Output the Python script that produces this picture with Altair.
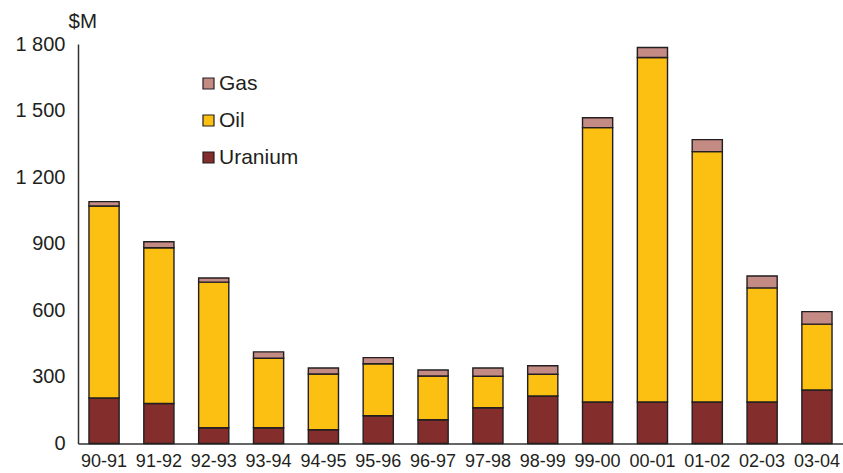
import altair as alt
import pandas as pd

# Financial years and annual spending by commodity ($M)
years = ["90-91", "91-92", "92-93", "93-94", "94-95", "95-96", "96-97",
         "97-98", "98-99", "99-00", "00-01", "01-02", "02-03", "03-04"]
uranium = [205, 180, 71, 71, 62, 125, 107, 161, 214, 187, 187, 187, 187, 241]
oil = [865, 702, 656, 313, 251, 234, 197, 142, 98, 1236, 1552, 1128, 514, 297]
gas = [20, 27, 19, 29, 27, 28, 27, 37, 38, 45, 45, 54, 54, 56]

series = ["Gas", "Oil", "Uranium"]
colors = ["#c48a84", "#fcc012", "#832d2d"]
stack_rank = {"Uranium": 0, "Oil": 1, "Gas": 2}

rows = []
for i, yr in enumerate(years):
    for name, vals in (("Uranium", uranium), ("Oil", oil), ("Gas", gas)):
        rows.append({"year": yr, "commodity": name, "value": vals[i],
                     "rank": stack_rank[name]})
df = pd.DataFrame(rows)

FONT = "Liberation Sans"
TEXT = "#231f20"

chart = (
    alt.Chart(df)
    .mark_bar(stroke="#231f20", strokeWidth=1.4)
    .encode(
        x=alt.X("year:N", sort=years, title=None,
                scale=alt.Scale(paddingInner=0.45, paddingOuter=0.2),
                axis=alt.Axis(labelAngle=0, ticks=False, labelPadding=9,
                              labelFontSize=18, labelColor=TEXT,
                              domainColor="#333333", domainWidth=1.5)),
        y=alt.Y("value:Q", stack="zero",
                scale=alt.Scale(domain=[0, 1800], nice=False),
                axis=alt.Axis(values=[0, 300, 600, 900, 1200, 1500, 1800],
                              labelExpr="replace(format(datum.value, ','), ',', ' ')",
                              grid=False, ticks=False, labelPadding=13,
                              labelFontSize=20, labelColor=TEXT,
                              domainColor="#333333", domainWidth=1.5,
                              title="$M", titleAngle=0, titleAlign="left",
                              titleBaseline="alphabetic", titleX=-10, titleY=-17,
                              titleFontSize=20.5, titleFontWeight="normal",
                              titleColor=TEXT)),
        color=alt.Color("commodity:N",
                        scale=alt.Scale(domain=series, range=colors),
                        legend=alt.Legend(title=None, orient="none",
                                          legendX=120, legendY=29,
                                          symbolType="square", symbolSize=121,
                                          symbolStrokeColor="#231f20",
                                          symbolStrokeWidth=1.2,
                                          labelFontSize=21, labelColor=TEXT,
                                          labelOffset=0, rowPadding=15)),
        order=alt.Order("rank:Q", sort="ascending"),
    )
    .properties(
        width=765, height=399.5,
        autosize=alt.AutoSizeParams(type="none"),
        padding={"left": 78, "top": 44, "right": 0, "bottom": 30},
    )
    .configure(font=FONT)
    .configure_view(stroke=None)
)

chart.save("out.html", embed_options={"renderer": "svg", "actions": False})
